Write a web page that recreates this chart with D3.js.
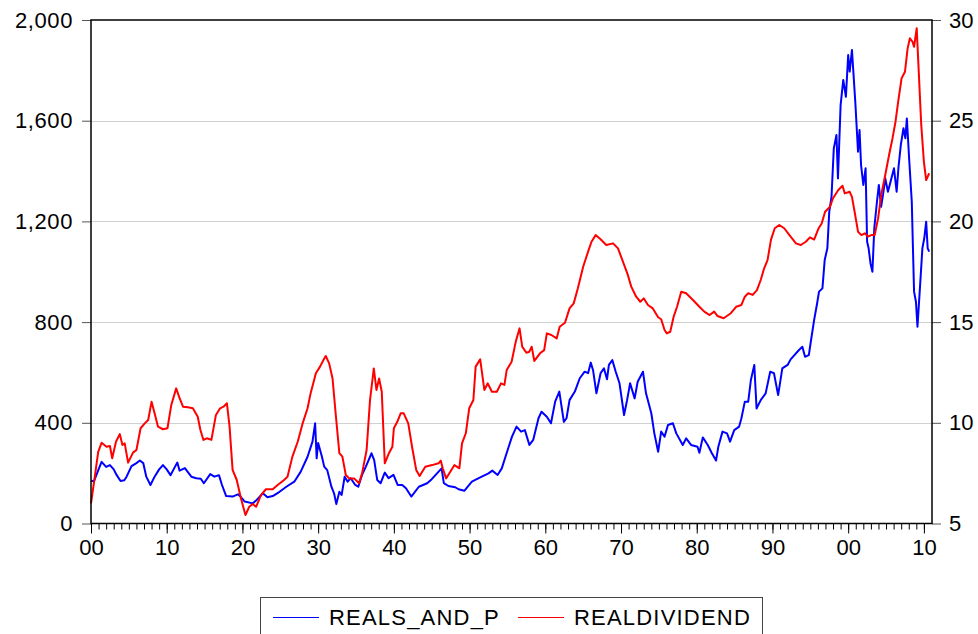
<!DOCTYPE html>
<html>
<head>
<meta charset="utf-8">
<script src="https://cdn.jsdelivr.net/npm/d3@7"></script>
<style>
  body { margin: 0; background: #fff; }
  svg text { font-family: "Liberation Sans", Arial, sans-serif; fill: #000; }
</style>
</head>
<body>
<div id="chart"></div>
<script>
// REALS_AND_P (left axis)
var spYears = [1900.0,1900.4,1901.0,1901.4,1902.0,1902.5,1903.0,1903.4,1903.9,1904.4,1904.7,1905.35,1906.0,1906.45,1906.9,1907.3,1907.85,1908.4,1909.0,1909.5,1910.0,1910.5,1911.05,1911.4,1911.7,1912.4,1913.25,1913.9,1914.5,1914.9,1915.75,1916.3,1916.9,1917.3,1917.85,1918.7,1919.4,1919.8,1920.3,1921.35,1921.8,1922.7,1923.3,1924.0,1924.9,1925.8,1926.85,1927.7,1928.6,1929.25,1929.6,1929.8,1930.0,1930.5,1930.8,1931.2,1931.75,1932.1,1932.4,1932.8,1933.1,1933.5,1933.9,1934.3,1934.9,1935.3,1935.8,1936.3,1937.05,1937.4,1937.8,1938.25,1938.8,1939.3,1939.95,1940.5,1941.1,1941.6,1942.3,1943.3,1944.4,1945.0,1945.7,1946.3,1946.6,1947.2,1948.1,1948.55,1949.3,1950.3,1951.4,1952.5,1953.0,1953.7,1954.25,1955.1,1955.6,1956.2,1956.8,1957.3,1957.9,1958.4,1959.1,1959.5,1960.2,1960.75,1961.3,1961.85,1962.45,1962.8,1963.2,1963.9,1964.55,1965.2,1965.65,1966.0,1966.3,1966.75,1967.3,1967.75,1968.15,1968.4,1968.85,1969.3,1969.8,1970.4,1970.8,1971.2,1971.8,1972.2,1972.9,1973.3,1974.0,1974.4,1974.9,1975.3,1975.75,1976.2,1976.85,1977.3,1978.15,1978.6,1979.25,1980.1,1980.35,1980.8,1981.45,1982.0,1982.55,1982.85,1983.4,1984.0,1984.4,1984.95,1985.6,1985.9,1986.35,1986.8,1987.15,1987.6,1987.9,1988.45,1989.1,1989.7,1990.2,1990.75,1991.3,1992.0,1992.4,1992.9,1993.5,1993.95,1994.3,1994.8,1995.0,1995.5,1995.9,1996.15,1996.6,1996.9,1997.25,1997.5,1997.8,1998.1,1998.45,1998.65,1999.0,1999.35,1999.7,2000.0,2000.2,2000.5,2000.95,2001.3,2001.5,2001.7,2002.0,2002.3,2002.5,2002.7,2002.95,2003.2,2003.45,2003.8,2004.05,2004.35,2004.6,2004.9,2005.25,2005.6,2006.05,2006.4,2006.65,2006.95,2007.3,2007.55,2007.75,2008.05,2008.4,2008.7,2008.95,2009.15,2009.5,2009.8,2010.05,2010.3,2010.5,2010.7];
var spValues = [170,168,215,245,225,232,215,192,169,172,186,228,240,250,240,186,153,186,215,232,215,192,223,242,210,220,186,180,178,160,196,186,192,153,109,107,116,105,87,80,91,120,104,109,126,146,166,206,265,325,398,259,320,265,226,212,146,120,77,126,113,186,166,180,153,146,193,226,279,252,173,160,202,180,193,153,153,140,107,146,160,176,199,219,160,149,144,136,130,166,183,199,210,193,219,299,345,385,365,371,312,332,418,444,424,398,484,524,404,418,490,524,577,603,597,639,610,517,597,616,573,630,649,603,557,431,490,557,497,563,603,517,438,358,285,365,345,391,398,358,312,338,312,305,281,342,312,279,250,305,365,358,325,371,385,418,484,484,570,630,457,490,517,603,597,510,616,630,652,669,689,702,662,669,709,808,875,921,934,1047,1093,1238,1298,1490,1543,1371,1662,1762,1695,1861,1795,1881,1669,1477,1563,1424,1345,1411,1119,1093,1033,1000,1173,1278,1345,1258,1305,1371,1318,1358,1411,1318,1417,1503,1570,1530,1609,1450,1278,921,881,782,947,1093,1133,1199,1093,1080];

// REALDIVIDEND (right axis)
var divYears = [1900.0,1900.5,1900.95,1901.4,1902.05,1902.5,1902.8,1903.3,1903.8,1904.15,1904.45,1904.9,1905.55,1906.0,1906.55,1907.1,1907.55,1908.0,1908.4,1908.85,1909.5,1910.1,1910.6,1911.25,1911.7,1912.15,1912.8,1913.45,1914.1,1914.45,1914.85,1915.3,1915.9,1916.5,1917.05,1917.5,1917.95,1918.3,1918.7,1919.25,1919.8,1920.4,1920.9,1921.35,1921.8,1922.45,1923.1,1924.0,1924.65,1925.5,1925.95,1926.6,1927.3,1927.95,1928.6,1929.0,1929.7,1930.25,1930.7,1931.0,1931.45,1931.9,1932.35,1932.8,1933.2,1933.65,1934.1,1934.75,1935.4,1935.8,1936.4,1936.85,1937.35,1937.7,1938.05,1938.4,1938.8,1939.35,1939.8,1940.0,1940.45,1940.9,1941.3,1941.9,1942.4,1942.95,1943.4,1944.15,1945.05,1945.9,1946.2,1946.45,1946.9,1947.45,1948.0,1948.65,1949.0,1949.5,1949.95,1950.5,1950.8,1951.4,1951.95,1952.4,1952.95,1953.6,1954.15,1954.6,1954.9,1955.55,1956.1,1956.6,1956.95,1957.5,1957.9,1958.2,1958.55,1959.3,1959.85,1960.2,1960.8,1961.5,1961.9,1962.6,1963.2,1963.75,1964.3,1965.0,1965.65,1966.1,1966.65,1967.3,1968.05,1968.95,1969.6,1970.25,1970.9,1971.35,1972.0,1972.55,1973.0,1973.55,1974.2,1974.9,1975.3,1975.75,1976.05,1976.5,1976.95,1977.4,1977.95,1978.6,1979.5,1980.35,1981.0,1981.7,1982.3,1982.75,1983.55,1984.5,1985.2,1985.9,1986.35,1986.8,1987.4,1987.95,1988.45,1988.9,1989.35,1989.8,1990.3,1990.9,1991.55,1992.4,1993.1,1993.75,1994.4,1994.95,1995.5,1996.1,1996.5,1996.95,1997.6,1998.0,1998.7,1999.25,1999.55,2000.2,2000.5,2000.85,2001.3,2001.75,2002.2,2002.6,2003.05,2003.5,2003.95,2004.4,2004.85,2005.4,2005.85,2006.25,2006.6,2007.05,2007.5,2007.85,2008.15,2008.5,2008.7,2009.05,2009.3,2009.65,2010.0,2010.3,2010.7];
var divValues = [6.0,7.32,8.56,9.01,8.81,8.85,8.24,9.06,9.44,8.9,8.98,8.02,8.52,8.65,9.73,9.97,10.14,11.05,10.47,9.81,9.68,9.73,10.88,11.71,11.22,10.8,10.77,10.72,10.3,9.64,9.15,9.23,9.15,10.39,10.72,10.8,10.97,9.81,7.66,7.16,6.25,5.42,5.83,5.97,5.83,6.41,6.7,6.7,6.91,7.16,7.32,8.32,9.06,9.97,10.72,11.46,12.46,12.79,13.12,13.32,12.95,12.2,10.3,8.49,8.32,7.41,7.24,7.24,7.0,7.49,8.65,11.13,12.7,11.63,12.2,11.54,7.99,8.49,8.81,9.73,10.05,10.47,10.47,9.97,8.81,7.66,7.36,7.82,7.9,7.99,8.12,7.74,7.24,7.57,7.9,7.74,8.98,9.48,10.72,11.13,12.79,13.15,11.63,11.96,11.54,11.54,11.96,11.88,12.62,13.03,14.03,14.69,13.78,13.48,13.53,13.78,13.07,13.45,13.61,14.44,14.36,14.19,14.77,14.97,15.68,15.93,16.68,17.75,18.5,18.99,19.32,19.11,18.83,18.91,18.66,18.0,17.34,16.76,16.26,16.01,16.18,15.85,15.68,15.24,15.14,14.61,14.44,14.52,15.27,15.76,16.51,16.43,16.1,15.76,15.52,15.35,15.52,15.3,15.19,15.44,15.76,15.85,16.26,16.43,16.35,16.59,17.09,17.67,18.08,19.08,19.66,19.82,19.66,19.24,18.91,18.83,18.99,19.21,19.1,19.66,19.9,20.48,20.73,21.15,21.56,21.77,21.39,21.47,21.22,20.48,19.49,19.32,19.41,19.24,19.32,19.32,20.15,21.39,22.22,23.3,24.12,24.95,25.94,27.1,27.43,28.59,29.09,28.92,28.67,29.59,27.6,24.79,22.96,22.05,22.39];

var leftTicks = [0, 400, 800, 1200, 1600, 2000];
var rightTicks = [5, 10, 15, 20, 25, 30];
var decadeTicks = [1900, 1910, 1920, 1930, 1940, 1950, 1960, 1970, 1980, 1990, 2000, 2010];
var seriesNames = ["REALS_AND_P", "REALDIVIDEND"];
var seriesColors = ["#0000ff", "#ff0000"];

var width = 978, height = 634;
var plot = {left: 91, right: 932, top: 20, bottom: 523.5};

var svg = d3.select("#chart").append("svg")
    .attr("width", width)
    .attr("height", height);

var x = d3.scaleLinear().domain([1900, 2011.07]).range([plot.left, plot.right]);
var yL = d3.scaleLinear().domain([0, 2000]).range([plot.bottom, plot.top]);
var yR = d3.scaleLinear().domain([5, 30]).range([plot.bottom, plot.top]);

// grid lines
svg.append("g").selectAll("line")
    .data(leftTicks.slice(1, -1))
    .enter().append("line")
    .attr("x1", plot.left).attr("x2", plot.right)
    .attr("y1", function(d){ return Math.round(yL(d)) + 0.5; })
    .attr("y2", function(d){ return Math.round(yL(d)) + 0.5; })
    .attr("stroke", "#d0d0d0")
    .attr("stroke-width", 1.2);

// axes
var fmt = d3.format(",");
var gL = svg.append("g")
    .attr("transform", "translate(" + plot.left + ",0)")
    .call(d3.axisLeft(yL).tickValues(leftTicks).tickFormat(fmt).tickSize(9).tickPadding(9));
var gR = svg.append("g")
    .attr("transform", "translate(" + plot.right + ",0)")
    .call(d3.axisRight(yR).tickValues(rightTicks).tickSize(9).tickPadding(8));

var years = d3.range(1900, 2011);
var gXminor = svg.append("g")
    .attr("transform", "translate(0," + plot.bottom + ")")
    .call(d3.axisBottom(x).tickValues(years).tickSize(6).tickFormat(""));
var gX = svg.append("g")
    .attr("transform", "translate(0," + plot.bottom + ")")
    .call(d3.axisBottom(x).tickValues(decadeTicks).tickSize(10).tickPadding(6)
          .tickFormat(function(d){ return d3.format("02")(d % 100); }));

[gL, gR, gX, gXminor].forEach(function(g){
    g.select(".domain").remove();
    g.selectAll("line").attr("stroke", "#000");
    g.selectAll("text").attr("font-size", 22).attr("font-family", "Liberation Sans, Arial, sans-serif");
});
gL.selectAll("text").attr("letter-spacing", 0.6);
gL.selectAll("line").attr("stroke", "#555");
gR.selectAll("line").attr("stroke", "#555");

// series
function lineFor(xs, vs, scale){
    var pts = xs.map(function(t, i){ return [t, vs[i]]; });
    return d3.line()
        .x(function(d){ return x(d[0]); })
        .y(function(d){ return scale(d[1]); })(pts);
}

svg.append("path")
    .attr("d", lineFor(spYears, spValues, yL))
    .attr("fill", "none")
    .attr("stroke", seriesColors[0])
    .attr("stroke-width", 2)
    .attr("stroke-linejoin", "round");

svg.append("path")
    .attr("d", lineFor(divYears, divValues, yR))
    .attr("fill", "none")
    .attr("stroke", seriesColors[1])
    .attr("stroke-width", 2)
    .attr("stroke-linejoin", "round");

// frame
svg.append("rect")
    .attr("x", plot.left).attr("y", plot.top)
    .attr("width", plot.right - plot.left)
    .attr("height", plot.bottom - plot.top)
    .attr("fill", "none")
    .attr("stroke", "#000")
    .attr("stroke-width", 1.5);

// legend
var legend = svg.append("g");
legend.append("rect")
    .attr("x", 260.5).attr("y", 597.5)
    .attr("width", 502).attr("height", 60)
    .attr("fill", "#fff")
    .attr("stroke", "#444")
    .attr("stroke-width", 1);

var legX = [273, 518];
seriesNames.forEach(function(name, i){
    legend.append("line")
        .attr("x1", legX[i]).attr("x2", legX[i] + 46)
        .attr("y1", 617.5).attr("y2", 617.5)
        .attr("stroke", seriesColors[i])
        .attr("stroke-width", 1.2);
    legend.append("text")
        .attr("x", legX[i] + 56)
        .attr("y", 624.5)
        .attr("font-size", 22)
        .attr("letter-spacing", 1.2)
        .text(name);
});
</script>
</body>
</html>
